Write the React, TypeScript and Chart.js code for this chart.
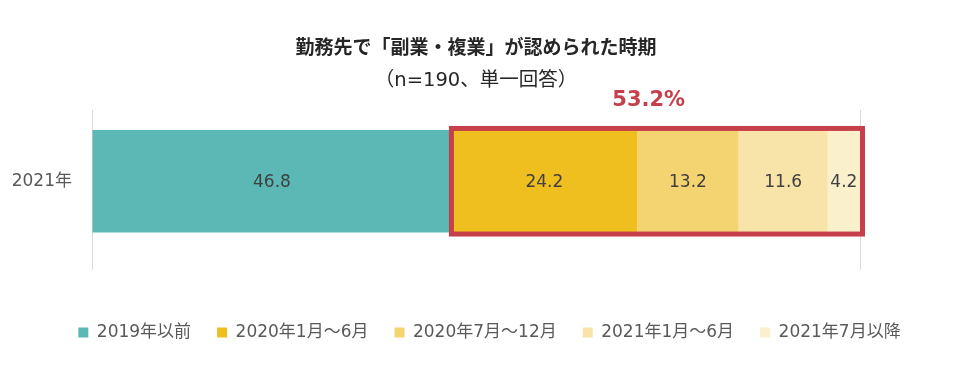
import React, { useEffect, useRef } from "react";
import { Chart, registerables } from "chart.js";

Chart.register(...registerables);

const categories = ["2021年"];
const seriesNames = ["2019年以前", "2020年1月～6月", "2020年7月～12月", "2021年1月～6月", "2021年7月以降"];
const seriesValues = [[46.8], [24.2], [13.2], [11.6], [4.2]];
const seriesColors = ["#5CB8B4", "#EEBF1E", "#F4D470", "#F8E4A8", "#FAF0CC"];
const highlightFrom = 1; // first highlighted series index
const highlightLabel = "53.2%";
const titleText = "勤務先で「副業・複業」が認められた時期";
const subtitleText = "（n=190、単一回答）";

const FONT = "'DejaVu Sans', 'Noto Sans CJK JP', sans-serif";
const TITLE_FONT = "'Noto Sans CJK JP', sans-serif";

const overlayPlugin = {
  id: "overlay",
  afterDatasetsDraw(chart: any) {
    const ctx = chart.ctx;
    const area = chart.chartArea;
    const cx = (area.left + area.right) / 2;
    ctx.save();
    // titles
    ctx.textAlign = "center";
    ctx.textBaseline = "middle";
    ctx.fillStyle = "#262626";
    ctx.font = `bold 19px ${TITLE_FONT}`;
    ctx.fillText(titleText, cx, 38.5);
    ctx.font = `19.5px ${FONT}`;
    ctx.fillText(subtitleText, cx, 72.5);

    // data labels
    ctx.font = `17px ${FONT}`;
    ctx.fillStyle = "#404040";
    chart.data.datasets.forEach((ds: any, i: number) => {
      const meta = chart.getDatasetMeta(i);
      meta.data.forEach((el: any, j: number) => {
        const v = ds.data[j];
        const left = Math.min(el.base, el.x);
        const right = Math.max(el.base, el.x);
        ctx.fillText(String(v.toFixed(1)), (left + right) / 2, el.y + 1);
      });
    });

    // highlight box
    const first = chart.getDatasetMeta(highlightFrom).data[0];
    const last = chart.getDatasetMeta(chart.data.datasets.length - 1).data[0];
    const x0 = Math.min(first.base, first.x);
    const x1 = Math.max(last.base, last.x);
    const y0 = first.y - first.height / 2;
    const y1 = first.y + first.height / 2;
    ctx.strokeStyle = "#C6404C";
    ctx.lineWidth = 5;
    ctx.strokeRect(x0, y0 - 1.5, x1 - x0 + 2.5, y1 - y0 + 3);
    ctx.fillStyle = "#C6404C";
    ctx.font = `bold 21px ${FONT}`;
    ctx.fillText(highlightLabel, (x0 + x1) / 2 - 7, y0 - 29);
    ctx.restore();
  },
};

export default function App() {
  const ref = useRef<HTMLCanvasElement | null>(null);
  useEffect(() => {
    if (!ref.current) return;
    const chart = new Chart(ref.current, {
      type: "bar",
      data: {
        labels: categories,
        datasets: seriesNames.map((name, i) => ({
          label: name,
          data: seriesValues[i],
          backgroundColor: seriesColors[i],
          borderWidth: 0,
          categoryPercentage: 0.72,
          barPercentage: 1,
        })),
      },
      options: {
        indexAxis: "y",
        animation: false,
        responsive: true,
        maintainAspectRatio: false,
        layout: { padding: { top: 102, right: 0, bottom: 13, left: 0 } },
        scales: {
          x: {
            stacked: true,
            min: 0,
            max: 100,
            border: { display: false },
            grid: { color: "#D9D9D9", lineWidth: 1, tickLength: 17, drawTicks: true },
            ticks: { display: false, stepSize: 100 },
            afterFit: (s: any) => {
              s.height = 45.5;
            },
          },
          y: {
            stacked: true,
            border: { display: false },
            grid: { display: false, drawTicks: false },
            ticks: { color: "#595959", font: { size: 17, family: FONT }, padding: 20 },
            afterFit: (s: any) => {
              s.width = 84;
            },
          },
          spacer: {
            type: "linear",
            axis: "y",
            position: "right",
            display: true,
            border: { display: false },
            grid: { display: false, drawTicks: false },
            ticks: { display: false },
            afterFit: (s: any) => {
              s.width = 111;
            },
          },
        },
        plugins: {
          title: { display: false },
          tooltip: { enabled: false },
          legend: {
            position: "bottom",
            labels: {
              boxWidth: 10,
              boxHeight: 10,
              padding: 26,
              color: "#595959",
              font: { size: 17, family: FONT },
            },
          },
        },
      },
      plugins: [overlayPlugin],
    } as any);
    return () => chart.destroy();
  }, []);
  return (
    <div style={{ position: "relative", width: "963px", height: "356px" }}>
      <canvas ref={ref} />
    </div>
  );
}
